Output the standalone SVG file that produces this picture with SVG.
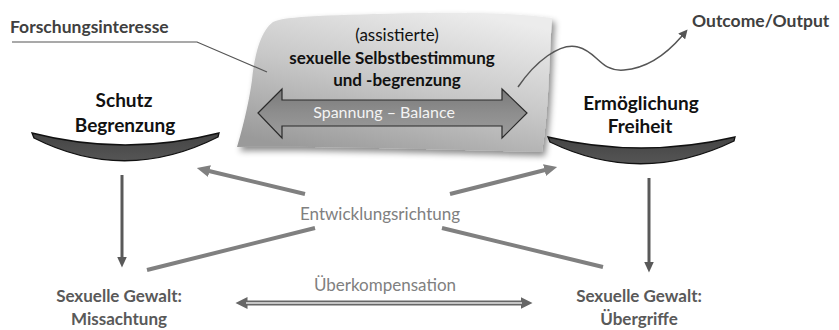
<svg xmlns="http://www.w3.org/2000/svg" width="839" height="330" viewBox="0 0 839 330">
<style>
text{font-family:Lato,"Open Sans","Liberation Sans",sans-serif}
.b{font-weight:bold}
.lbl{fill:#404040;font-size:17.5px;font-weight:bold}
.pole{fill:#111;font-size:19px;font-weight:bold;text-anchor:middle}
.viol{fill:#595959;font-size:17px;font-weight:bold;text-anchor:middle}
.soft{fill:#808080;font-size:17px;text-anchor:middle}
.title{fill:#111;font-size:17px;text-anchor:middle}
.bowl{stroke:#111;stroke-width:1.3;fill:url(#bowlG)}
.vline{stroke:#595959;stroke-width:3;fill:none}
.dline{stroke:#808080;stroke-width:4;fill:none}
</style>
<defs>
<linearGradient id="boxG" x1="0.75" y1="0" x2="0.25" y2="1">
<stop offset="0" stop-color="#ececec"/>
<stop offset="0.5" stop-color="#c8c8c8"/>
<stop offset="1" stop-color="#9a9a9a"/>
</linearGradient>
<linearGradient id="arrG" x1="0" y1="0" x2="0" y2="1">
<stop offset="0" stop-color="#7a7a7a"/>
<stop offset="0.5" stop-color="#8e8e8e"/>
<stop offset="1" stop-color="#9c9c9c"/>
</linearGradient>
<linearGradient id="bowlG" x1="0" y1="0" x2="0" y2="1">
<stop offset="0" stop-color="#444"/>
<stop offset="1" stop-color="#555"/>
</linearGradient>
<filter id="sh" x="-10%" y="-10%" width="130%" height="140%">
<feDropShadow dx="3" dy="4" stdDeviation="3" flood-color="#000" flood-opacity="0.45"/>
</filter>
<marker id="mV" markerUnits="userSpaceOnUse" markerWidth="12" markerHeight="11" refX="0.5" refY="5" orient="auto" viewBox="0 0 12 10">
<path d="M0,0 L11,5 L0,10 z" fill="#595959"/>
</marker>
<marker id="mD" markerUnits="userSpaceOnUse" markerWidth="14" markerHeight="12" refX="0.5" refY="6" orient="auto" viewBox="0 0 14 12">
<path d="M0,0 L13,6 L0,12 z" fill="#808080"/>
</marker>
<marker id="mO" markerUnits="userSpaceOnUse" markerWidth="13" markerHeight="13" refX="0.5" refY="6" orient="auto-start-reverse" viewBox="0 0 13 12">
<path d="M0,0 L12,6 L0,12 z" fill="#666"/>
</marker>
<marker id="mC" markerUnits="userSpaceOnUse" markerWidth="10" markerHeight="9" refX="0.5" refY="4.5" orient="auto" viewBox="0 0 10 9">
<path d="M0,0 L9,4.5 L0,9 z" fill="#555"/>
</marker>
</defs>

<rect width="839" height="330" fill="#fff"/>

<g id="center-box">
<path d="M273,22 C285,16 330,15 420,13 C480,12 520,14 552,18 C549,60 549,110 542,152 C450,150 330,146 237,147 C245,120 250,95 252,80 C255,50 262,30 273,22 Z" fill="url(#boxG)" filter="url(#sh)"/>
<text class="title" x="397" y="41">(assistierte)</text>
<text class="title b" x="392" y="64">sexuelle Selbstbestimmung</text>
<text class="title b" x="397" y="86">und -begrenzung</text>
</g>

<g id="spannung-arrow">
<polygon points="258,113 282,89 282,100 502,100 502,89 527,113 502,138 502,126 282,126 282,138" fill="url(#arrG)" stroke="#2a2a2a" stroke-width="1.2" stroke-linejoin="miter"/>
<text x="384" y="118" fill="#f4f4f4" font-size="16" text-anchor="middle">Spannung – Balance</text>
</g>

<g id="forschungsinteresse">
<text class="lbl" x="10" y="33">Forschungsinteresse</text>
<polyline points="12,42 197,42 267,72" fill="none" stroke="#555" stroke-width="1.2"/>
</g>

<g id="outcome">
<text class="lbl" x="692" y="27" font-size="18.5">Outcome/Output</text>
</g>

<g id="schutz">
<text class="pole" x="124" y="107">Schutz</text>
<text class="pole" x="125" y="132">Begrenzung</text>
<path class="bowl" d="M32,133 Q125,157 219,133 L218,137 Q125,184 34,138 Z"/>
</g>

<g id="ermoeglichung">
<text class="pole" x="641" y="110">Ermöglichung</text>
<text class="pole" x="640" y="133">Freiheit</text>
<path class="bowl" d="M548,137 Q641,159 735,137 L734,141 Q641,186 550,142 Z"/>
</g>

<g id="missachtung">
<text class="viol" x="119" y="302">Sexuelle Gewalt:</text>
<text class="viol" x="119" y="325">Missachtung</text>
</g>

<g id="uebergriffe">
<text class="viol" x="639" y="302">Sexuelle Gewalt:</text>
<text class="viol" x="639" y="325">Übergriffe</text>
</g>

<g id="entwicklungsrichtung">
<text class="soft" x="380" y="220">Entwicklungsrichtung</text>
</g>

<g id="ueberkompensation">
<text class="soft" x="385" y="291" font-size="16">Überkompensation</text>
</g>

<g id="connectors">
<path d="M518,87 C535,62 560,42 578,47 C598,52 600,72 624,70 C650,68 670,50 682,36" fill="none" stroke="#555" stroke-width="1.5" marker-end="url(#mC)"/>
<line class="vline" x1="122" y1="175" x2="122" y2="257" marker-end="url(#mV)"/>
<line class="vline" x1="649" y1="178" x2="649" y2="262" marker-end="url(#mV)"/>
<path class="dline" d="M147,270 L315,228 M450,194 L545,170" marker-end="url(#mD)"/>
<path class="dline" d="M603,267 L442,228 M305,194 L209,171" marker-end="url(#mD)"/>
<line x1="247" y1="303" x2="521" y2="303" stroke="#666" stroke-width="5" marker-start="url(#mO)" marker-end="url(#mO)"/>
<line x1="246" y1="303" x2="522" y2="303" stroke="#e6e6e6" stroke-width="1.5"/>
</g>
</svg>
